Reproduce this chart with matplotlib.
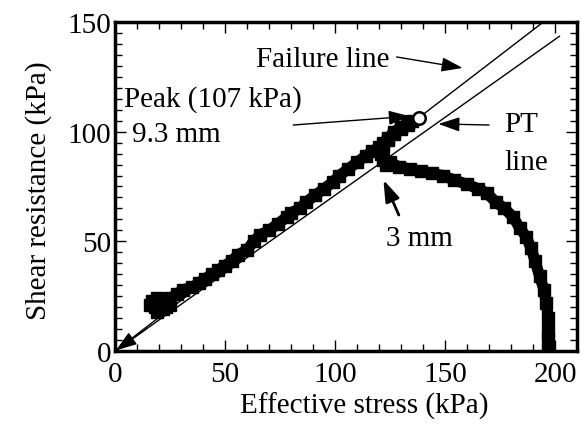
import matplotlib
matplotlib.use("Agg")
import matplotlib.pyplot as plt
from matplotlib.ticker import MultipleLocator

plt.rcParams['font.family'] = ['Liberation Serif', 'DejaVu Serif']
plt.rcParams['font.size'] = 21

# stress path (effective stress, shear resistance), in test order
stress = [197, 197, 197, 197, 196, 195, 193, 191, 189, 187, 184, 181, 177, 173,
          169, 165, 160, 154, 149, 144, 139, 134, 129, 125, 123, 122, 121, 122,
          124, 127, 130, 133, 135,
          133, 130, 127, 124, 122, 120, 117, 114, 110, 106, 102, 99, 95, 91, 87,
          84, 80, 78, 74, 70, 66, 63, 60, 56, 53, 50, 47, 44, 41, 38, 35, 31, 28,
          25, 22, 20, 18, 16, 17, 19, 21, 23, 25, 22, 19]
shear = [0, 5, 9, 15, 22, 28, 34, 41, 47, 52, 56, 61, 65, 68,
         72, 74, 76, 78, 80, 81, 82, 83, 84, 86, 85, 87, 90, 93,
         96, 99, 101, 103, 105,
         104, 102, 100, 97, 95, 93, 91, 89, 86, 83, 80, 77, 74, 71, 68,
         65, 63, 61, 58, 55, 53, 50, 46, 44, 41, 39, 37, 35, 33, 31, 29, 28, 26,
         24, 22, 21, 20, 21, 23, 24, 22, 20, 21, 19, 18]

peak = (138, 106)
failure_slope = 0.77
failure_x = [0, 195]
pt_slope = 0.71
pt_x = [0, 202]

fig = plt.figure(figsize=(5.87, 4.31), dpi=100)
ax = fig.add_axes([0.196, 0.183, 0.787, 0.764])

ax.plot(failure_x, [failure_slope * v for v in failure_x], color='black', lw=1)
ax.plot(pt_x, [pt_slope * v for v in pt_x], color='black', lw=1)
ax.plot(stress, shear, color='black', lw=8, marker='s', ms=8,
        solid_joinstyle='round', solid_capstyle='round')
ax.plot(*peak, marker='o', ms=9, mfc='white', mec='black', mew=1.8)

arrow = dict(arrowstyle='-|>,head_length=0.62,head_width=0.21', color='black', lw=1,
             shrinkA=0, shrinkB=0)
ax.text(64, 133, 'Failure line', va='center')
ax.annotate('', xy=(158, 129), xytext=(128, 134), arrowprops=arrow)
ax.text(4, 115, 'Peak (107 kPa)', va='center')
ax.text(7.5, 99, '9.3 mm', va='center')
ax.annotate('', xy=(134, 107), xytext=(81, 103), arrowprops=arrow)
ax.text(177, 103.5, 'PT', va='center')
ax.text(177, 86, 'line', va='center')
ax.annotate('', xy=(147, 103.5), xytext=(170, 103), arrowprops=arrow)
ax.text(123, 51.5, '3 mm', va='center')
ax.annotate('', xy=(122, 78), xytext=(129, 62), arrowprops=dict(arrow, lw=2))
ax.annotate('', xy=(0.3, 0.3), xytext=(14, 10), arrowprops=arrow)

ax.set_xlim(0, 210)
ax.set_ylim(0, 150)
ax.xaxis.set_major_locator(MultipleLocator(50))
ax.xaxis.set_minor_locator(MultipleLocator(10))
ax.yaxis.set_major_locator(MultipleLocator(50))
ax.yaxis.set_minor_locator(MultipleLocator(5))
ax.tick_params(which='both', direction='in', top=True, right=True, width=1)
ax.tick_params(which='major', length=8, pad=3)
ax.tick_params(which='minor', length=5)
ax.tick_params(axis='x', which='major', pad=7)
for s in ax.spines.values():
    s.set_linewidth(2.5)

ax.set_xlabel('Effective stress (kPa)')
ax.set_ylabel('Shear resistance (kPa)')
ax.xaxis.set_label_coords(0.539, -0.122)
ax.yaxis.set_label_coords(-0.136, 0.49)

fig.savefig('out.png', dpi=100)
